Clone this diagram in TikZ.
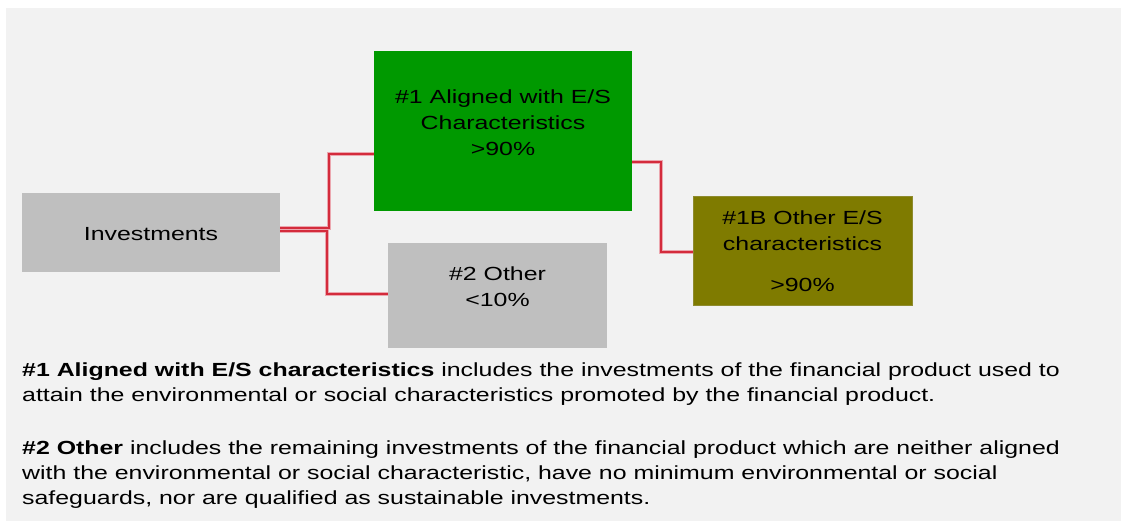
\documentclass[tikz,border=0pt]{standalone}
\usepackage{fontspec}
\setmainfont{Liberation Sans}[FakeStretch=1.31]
\definecolor{bgc}{HTML}{F2F2F2}
\definecolor{boxgray}{HTML}{BFBFBF}
\definecolor{boxgreen}{HTML}{009900}
\definecolor{boxolive}{HTML}{7F7B00}
\definecolor{olivebord}{HTML}{8E8B2E}
\definecolor{linered}{HTML}{D42B3C}
\definecolor{linehalo}{HTML}{EBA7AF}
\begin{document}
\begin{tikzpicture}[x=1pt,y=-1pt,
  box/.style={rectangle, inner sep=0pt, outer sep=0pt, anchor=north west},
  txt/.style={font=\fontsize{19}{23}\selectfont, inner sep=0pt, anchor=base, text=black},
  body/.style={font=\fontsize{19}{23}\selectfont, inner sep=0pt, anchor=base west, text=black},
  conn/.style={draw=linered, line width=1.8pt, preaction={draw=linehalo, line width=3.2pt}}]
\useasboundingbox (0,0) rectangle (1121,525);
\fill[white] (0,0) rectangle (1121,525);
\fill[bgc] (6,8) rectangle (1121,521);

% boxes
\node[box, fill=boxgray, minimum width=258pt, minimum height=79pt] (inv) at (22,193) {};
\node[box, fill=boxgreen, minimum width=258pt, minimum height=160pt] (g) at (374,51) {};
\node[box, fill=boxgray, minimum width=219pt, minimum height=105pt] (o) at (388,243) {};
\node[box, fill=boxolive, draw=olivebord, line width=0.8pt, minimum width=219pt, minimum height=109pt] (b) at (693,196) {};

% box texts
\node[txt] (invt) at (151,240) {Investments};
\node[txt] (g1) at (503,103.5) {\#1 Aligned with E/S};
\node[txt] (g2) at (503,129.5) {Characteristics};
\node[txt] (g3) at (503,155.5) {>90\%};
\node[txt] (o1) at (497.5,280) {\#2 Other};
\node[txt] (o2) at (497.5,306) {<10\%};
\node[txt] (b1) at (802.5,224.5) {\#1B Other E/S};
\node[txt] (b2) at (802.5,250.5) {characteristics};
\node[txt] (b3) at (802.5,291.5) {>90\%};

% connectors
\draw[conn] ([yshift=4.5pt]inv.east) -- ++(49,0) |- ([yshift=-23pt]g.west);
\draw[conn] ([yshift=1.5pt]inv.east) -- ++(47,0) |- ([yshift=1.5pt]o.west);
\draw[conn] ([yshift=-31pt]g.east) -- ++(29,0) |- ([yshift=-1.5pt]b.west);

% explanatory text
\node[body] (t1) at (22,376.5) {\textbf{\#1 Aligned with E/S characteristics} includes the investments of the financial product used to};
\node[body] (t2) at (22,401.5) {attain the environmental or social characteristics promoted by the financial product.};
\node[body] (t3) at (22,454) {\textbf{\#2 Other} includes the remaining investments of the financial product which are neither aligned};
\node[body] (t4) at (22,479) {with the environmental or social characteristic, have no minimum environmental or social};
\node[body] (t5) at (22,504) {safeguards, nor are qualified as sustainable investments.};
\end{tikzpicture}
\end{document}
